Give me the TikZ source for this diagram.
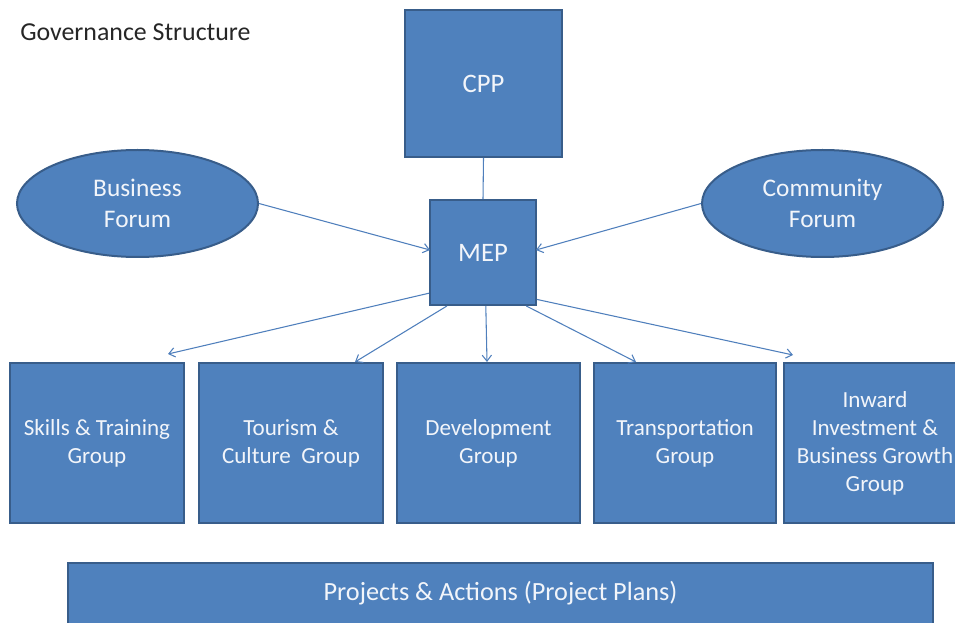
\documentclass[tikz,border=0pt]{standalone}
\usepackage{fontspec}
\setmainfont{Carlito}
\usetikzlibrary{arrows.meta,shapes.geometric,calc}
\definecolor{boxfill}{HTML}{4F81BD}
\definecolor{boxline}{HTML}{385D8A}
\definecolor{arrcol}{HTML}{4F7FBC}
\definecolor{txtcol}{HTML}{F2F5FA}
\definecolor{titlecol}{HTML}{262626}
\begin{document}
\begin{tikzpicture}[x=0.75pt,y=-0.75pt,
  box/.style={rectangle,draw=boxline,fill=boxfill,line width=1.5pt,text=txtcol,align=center,inner sep=0pt},
  oval/.style={ellipse,draw=boxline,fill=boxfill,line width=1.5pt,text=txtcol,align=center,inner sep=0pt},
  bigtxt/.style={font=\fontsize{20}{24}\selectfont},
  grptxt/.style={font=\fontsize{17.3}{21}\selectfont},
  ovaltxt/.style={font=\fontsize{19}{23}\selectfont},
  conn/.style={draw=arrcol,line width=0.8pt},
  arr/.style={conn,-{Straight Barb[length=4.5pt,width=7pt]}}]
\useasboundingbox (0,0) rectangle (955,623);
\begin{scope}
\clip (0,0) rectangle (955,623);
\node[anchor=west,text=titlecol,font=\fontsize{19.4}{23}\selectfont,inner sep=0pt] (title) at (20,32) {Governance Structure};
\node[box,bigtxt,minimum width={157*0.75pt},minimum height={147*0.75pt}] (cpp) at (483.5,83.5) {CPP};
\node[box,bigtxt,minimum width={106*0.75pt},minimum height={105*0.75pt}] (mep) at (483,252.5) {MEP};
\node[oval,ovaltxt,minimum width={241*0.75pt},minimum height={107*0.75pt}] (bf) at (137.5,203.5) {Business\\Forum};
\node[oval,ovaltxt,minimum width={241*0.75pt},minimum height={107*0.75pt}] (cf) at (822.5,203.5) {Community\\Forum};
\node[box,grptxt,minimum width={174*0.75pt},minimum height={160*0.75pt}] (skills) at (97,443) {Skills \& Training\\Group};
\node[box,grptxt,minimum width={184*0.75pt},minimum height={160*0.75pt}] (tour) at (291,443) {Tourism \&\\Culture\ \ Group};
\node[box,grptxt,minimum width={183*0.75pt},minimum height={160*0.75pt}] (dev) at (488.5,443) {Development\\Group};
\node[box,grptxt,minimum width={182*0.75pt},minimum height={160*0.75pt}] (trans) at (685,443) {Transportation\\Group};
\node[box,grptxt,minimum width={182*0.75pt},minimum height={160*0.75pt}] (inw) at (875,443) {Inward\\Investment \&\\Business Growth\\Group};
\node[box,minimum width={865*0.75pt},minimum height={80*0.75pt}] (proj) at (500.5,603) {};
\node[font=\fontsize{19.7}{24}\selectfont,text=txtcol,inner sep=0pt] (projt) at (500.5,593) {Projects \& Actions (Project Plans)};
\end{scope}
\coordinate (tskills) at (168,354);
\coordinate (ttour) at (355,362);
\coordinate (tdev) at (487,362);
\coordinate (ttrans) at (636,362);
\coordinate (tinw) at (793,355);
\coordinate (tmepl) at (430,250);
\coordinate (tmepr) at (536,250);
\draw[conn] (cpp.south) -- (mep.north);
\draw[arr] (bf.east) -- (tmepl);
\draw[arr] (cf.west) -- (tmepr);
\draw[arr] (mep.217) -- (tskills);
\draw[arr] (mep.236) -- (ttour);
\draw[arr] (mep.273) -- (tdev);
\draw[arr] (mep.309) -- (ttrans);
\draw[arr] (mep.319) -- (tinw);
\end{tikzpicture}
\end{document}
